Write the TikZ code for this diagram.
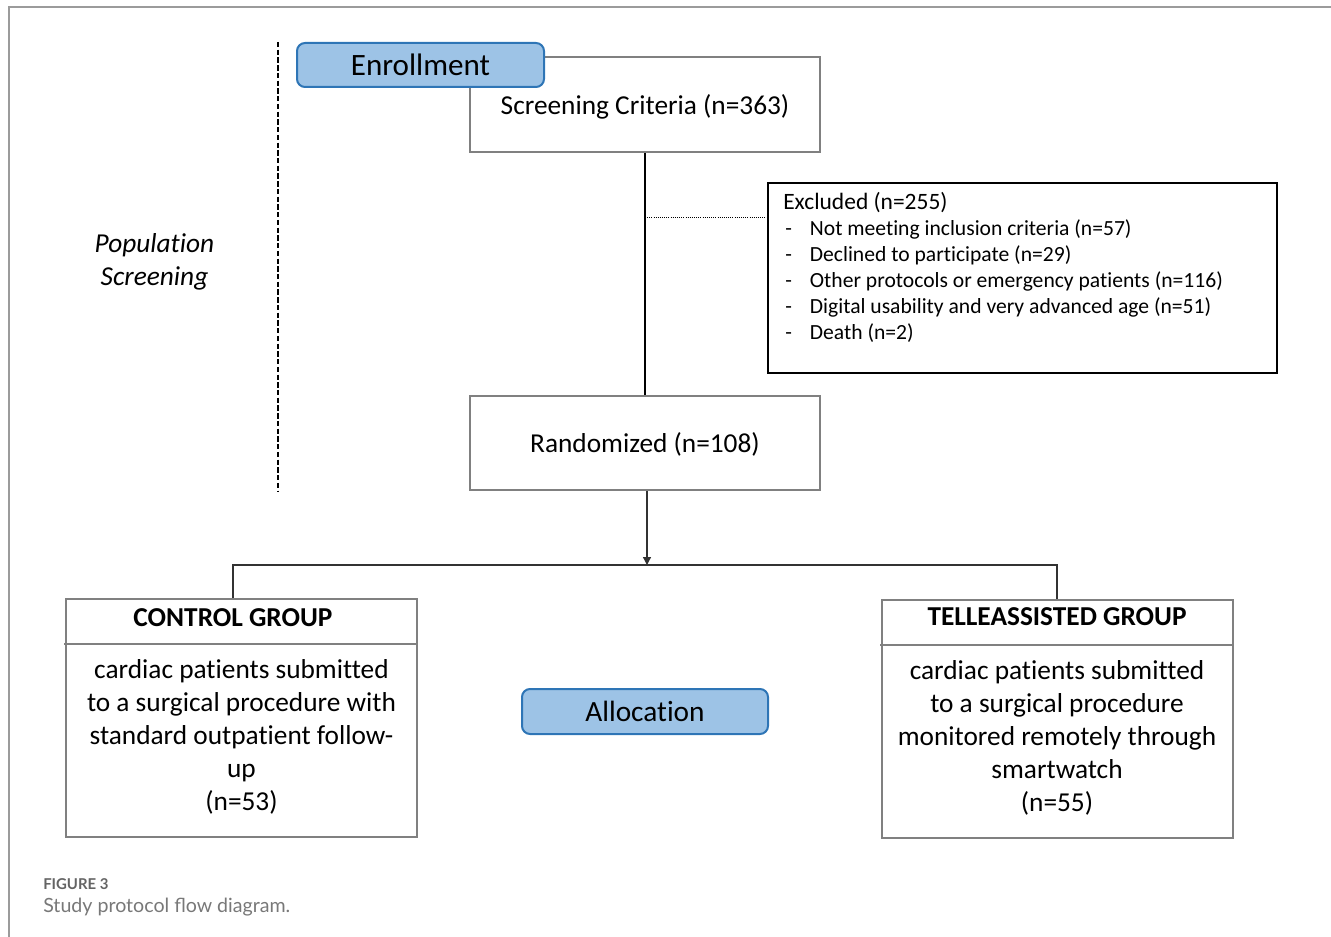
\documentclass[tikz,border=0pt]{standalone}
\usepackage{fontspec}
\setmainfont{Carlito}[Ligatures=NoCommon]
\newfontfamily\capfont{Lato}
\usetikzlibrary{arrows.meta}
\definecolor{boxgray}{RGB}{128,128,128}
\definecolor{bluefill}{RGB}{157,195,230}
\definecolor{blueline}{RGB}{46,117,182}
\definecolor{framegray}{RGB}{155,155,155}
\definecolor{capgray}{RGB}{120,120,120}
\definecolor{capdark}{RGB}{100,100,100}
\definecolor{linedark}{RGB}{50,50,50}
\begin{document}
\begin{tikzpicture}[x=0.75pt,y=-0.75pt,
  graybox/.style={draw=boxgray,line width=1.3pt,inner sep=0pt},
  blackbox/.style={draw=black,line width=1.5pt,inner sep=0pt},
  bluebox/.style={draw=blueline,fill=bluefill,line width=1.5pt,rounded corners=6pt,inner sep=0pt},
  maintext/.style={font=\fontsize{20.5}{24.75}\selectfont,inner sep=0pt,align=center},
  titletext/.style={font=\fontsize{20.5}{24.75}\selectfont\bfseries,inner sep=0pt},
  exctext/.style={font=\fontsize{16.2}{19.5}\selectfont,inner sep=0pt,align=left},
  conn/.style={draw=black,line width=1.5pt},
  branch/.style={draw=linedark,line width=1pt},
  divider/.style={draw=boxgray,line width=1.3pt}
]
\useasboundingbox (0,0) rectangle (1331,937);
% frame
\draw[framegray,line width=1.5pt] (1331,7) -- (9,7) -- (9,937);
% dashed separator
\draw[black,line width=1.5pt,dash pattern=on 4pt off 1.8pt] (278,42) -- (278,491);
% population screening
\node[maintext,font=\fontsize{20.5}{24.75}\selectfont\itshape] (pop) at (154.5,262) {Population\\Screening};
% screening criteria
\node[graybox,minimum width=262.5pt,minimum height=71.25pt,maintext,text height=19.9pt,text depth=5pt] (scr) at (645,104.5) {Screening Criteria (n=363)};
% enrollment
\node[bluebox,minimum width=185.25pt,minimum height=33pt,font=\fontsize{23.3}{28}\selectfont] (enr) at (420.5,65) {Enrollment};
% excluded
\node[blackbox,minimum width=381.75pt,minimum height=142.5pt] (exc) at (1022.5,278) {};
\node[exctext,anchor=north west] (exct) at (783,192) {{\fontsize{17.6}{19.5}\selectfont Excluded (n=255)}\\
\makebox[20pt][l]{\hspace{1.5pt}-}Not meeting inclusion criteria (n=57)\\
\makebox[20pt][l]{\hspace{1.5pt}-}Declined to participate (n=29)\\
\makebox[20pt][l]{\hspace{1.5pt}-}Other protocols or emergency patients (n=116)\\
\makebox[20pt][l]{\hspace{1.5pt}-}Digital usability and very advanced age (n=51)\\
\makebox[20pt][l]{\hspace{1.5pt}-}Death (n=2)};
% randomized
\node[graybox,minimum width=262.5pt,minimum height=70.5pt,maintext,text height=19.9pt,text depth=5pt] (rnd) at (645,443) {Randomized (n=108)};
% connectors
\draw[conn] (scr.south) -- (rnd.north);
\coordinate (e1) at (700,217);
\draw[black,line width=0.6pt,densely dotted] (scr.south |- e1) -- (exc.west |- e1);
\coordinate (jn) at (647,565);
\draw[branch,-{Triangle[width=6pt,length=6pt]}] (rnd.south -| jn) -- (jn);
% groups
\node[graybox,minimum width=263.25pt,minimum height=178.5pt] (ctl) at (241.5,718) {};
\node[graybox,minimum width=263.25pt,minimum height=178.5pt] (tel) at (1057.5,719) {};
\coordinate (cl) at (233,565);
\coordinate (tr) at (1057,565);
\draw[branch] (ctl.north -| cl) -- (cl) -- (tr) -- (tel.north -| tr);
\coordinate (dl) at (64,644);
\coordinate (dr) at (880,645);
\draw[divider] (dl) -- (ctl.east |- dl);
\draw[divider] (dr) -- (tel.east |- dr);
\node[titletext] (ctlt) at (233,618) {CONTROL GROUP};
\node[titletext] (telt) at (1057,617) {TELLEASSISTED GROUP};
\node[maintext,font=\fontsize{20.5}{24.75}\selectfont] (ctlb) at (241.5,737) {cardiac patients submitted\\to a surgical procedure with\\standard outpatient follow-\\up\\(n=53)};
\node[maintext,font=\fontsize{20.5}{24.75}\selectfont] (telb) at (1057,738) {cardiac patients submitted\\to a surgical procedure\\monitored remotely through\\smartwatch\\(n=55)};
% allocation
\node[bluebox,minimum width=184.5pt,minimum height=33.75pt,font=\fontsize{22}{26}\selectfont] (alc) at (645,711.5) {Allocation};
% caption
\node[anchor=base west,inner sep=0pt,text=capdark,font=\capfont\bfseries\fontsize{11.2}{13}\selectfont] (fig) at (43,889) {FIGURE 3};
\node[anchor=base west,inner sep=0pt,text=capgray,font=\capfont\fontsize{14.7}{17}\selectfont] (cap) at (43,912) {Study protocol flow diagram.};
\end{tikzpicture}
\end{document}
